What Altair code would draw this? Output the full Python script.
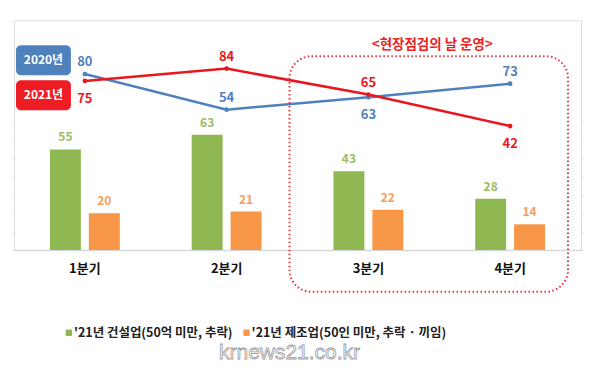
import altair as alt
import pandas as pd

quarters = ["1분기", "2분기", "3분기", "4분기"]
bar_series = ["'21년 건설업(50억 미만, 추락)", "'21년 제조업(50인 미만, 추락 · 끼임)"]
construction_21 = [55, 63, 43, 28]
manufacturing_21 = [20, 21, 22, 14]
line_series = ["2020년", "2021년"]
fatal_2020 = [80, 54, 63, 73]
fatal_2021 = [75, 84, 65, 42]

FONT = "Noto Sans CJK KR"
GREEN, ORANGE = "#8fb752", "#f79646"
GREEN_T, ORANGE_T = "#9dbb62", "#f5a05a"
BLUE, RED = "#4f81bd", "#e8161e"

bars = pd.DataFrame({
    "quarter": quarters * 2,
    "series": [bar_series[0]] * 4 + [bar_series[1]] * 4,
    "value": construction_21 + manufacturing_21,
})
lines = pd.DataFrame({
    "quarter": quarters * 2,
    "series": [line_series[0]] * 4 + [line_series[1]] * 4,
    "value": fatal_2020 + fatal_2021,
})
# label placement (annotation layout)
below = {("2020년", "3분기"), ("2021년", "1분기"), ("2021년", "4분기")}
lines["below"] = [(s, q) in below for s, q in zip(lines["series"], lines["quarter"])]

W, H = 568, 230
xenc = alt.X("quarter:N", sort=quarters,
             scale=alt.Scale(paddingInner=0, paddingOuter=0),
             axis=alt.Axis(title=None, labelAngle=0, ticks=False, labelPadding=13,
                           labelFont=FONT, labelFontSize=13, labelFontWeight="bold",
                           labelColor="#111", domainColor="#d9d9d9", domainWidth=1.5))
ybar = alt.Y("value:Q", scale=alt.Scale(domain=[0, 125.7], nice=False, zero=False),
             axis=alt.Axis(title=None, labels=False, domain=False, grid=False,
                           ticks=True, tickSize=2, tickColor="#dddddd",
                           values=[0, 10, 20, 30, 40, 50, 60, 70]))
yline = alt.Y("value:Q", scale=alt.Scale(domain=[-48.5, 119.3], nice=False, zero=False),
              axis=None)
xoff = alt.XOffset("series:N", sort=bar_series,
                   scale=alt.Scale(paddingInner=0.205, paddingOuter=0.923))
bcolor = alt.Color("series:N", scale=alt.Scale(domain=bar_series, range=[GREEN, ORANGE]), legend=None)
btcolor = alt.Color("series:N", scale=alt.Scale(domain=bar_series, range=[GREEN_T, ORANGE_T]), legend=None)
lcolor = alt.Color("series:N", scale=alt.Scale(domain=line_series, range=[BLUE, RED]), legend=None)

base_b = alt.Chart(bars)
bar_layer = base_b.mark_bar().encode(x=xenc, xOffset=xoff, y=ybar, color=bcolor)
bar_text = base_b.mark_text(dy=-12, font=FONT, fontSize=12, fontWeight="bold").encode(
    x=xenc, xOffset=xoff, y=ybar, text="value:Q", color=btcolor)

base_l = alt.Chart(lines)
line_layer = base_l.mark_line(strokeWidth=2.5).encode(x=xenc, y=yline, color=lcolor, detail="series:N")
pt_layer = base_l.mark_circle(size=22, opacity=1).encode(x=xenc, y=yline, color=lcolor)
lt_above = base_l.transform_filter("!datum.below").mark_text(
    dy=-12, font=FONT, fontSize=13, fontWeight="bold").encode(
    x=xenc, y=yline, text="value:Q", color=lcolor)
lt_below = base_l.transform_filter("datum.below").mark_text(
    dy=18, font=FONT, fontSize=13, fontWeight="bold").encode(
    x=xenc, y=yline, text="value:Q", color=lcolor)

one = alt.Chart(pd.DataFrame({"a": [0]}))
box = one.mark_rect(fill=None, stroke="#e2323a", strokeWidth=2, strokeDash=[1.5, 2.5],
                    cornerRadius=22).encode(
    x=alt.value(276), x2=alt.value(555), y=alt.value(36), y2=alt.value(272))
box_title = one.mark_text(text="<현장점검의 날 운영>", font=FONT, fontSize=13.5, fontWeight="bold",
                          color="#e8231f").encode(x=alt.value(419), y=alt.value(25))
leg20 = one.mark_rect(fill=BLUE, cornerRadius=5).encode(
    x=alt.value(2), x2=alt.value(57), y=alt.value(25), y2=alt.value(55))
leg21 = one.mark_rect(fill="#ee1c25", cornerRadius=5).encode(
    x=alt.value(2), x2=alt.value(57), y=alt.value(60), y2=alt.value(90))
leg20t = one.mark_text(text=line_series[0], font=FONT, fontSize=12, fontWeight="bold",
                       color="white").encode(x=alt.value(29.5), y=alt.value(40))
leg21t = one.mark_text(text=line_series[1], font=FONT, fontSize=12, fontWeight="bold",
                       color="white").encode(x=alt.value(29.5), y=alt.value(75))

sq1 = one.mark_square(size=40, color=GREEN, opacity=1).encode(x=alt.value(55), y=alt.value(313))
sq2 = one.mark_square(size=40, color=ORANGE, opacity=1).encode(x=alt.value(233), y=alt.value(313))
bl1 = one.mark_text(text=bar_series[0], font=FONT, fontSize=12.5, fontWeight="bold", color="#222",
                    align="left").encode(x=alt.value(60), y=alt.value(313))
bl2 = one.mark_text(text=bar_series[1], font=FONT, fontSize=12.5, fontWeight="bold", color="#222",
                    align="left").encode(x=alt.value(238), y=alt.value(313))
wm = one.mark_text(text="krnews21.co.kr", font="Liberation Sans", fontSize=21, fill="white",
                   stroke="#9a9a9a", strokeWidth=0.8).encode(x=alt.value(276), y=alt.value(333))

chart = alt.layer(
    bar_layer, bar_text, line_layer, pt_layer, lt_above, lt_below,
    box, box_title, leg20, leg21, leg20t, leg21t, sq1, sq2, bl1, bl2, wm
).resolve_scale(y="independent", color="independent").properties(
    width=W, height=H,
    autosize=alt.AutoSizeParams(type="none"),
    padding={"left": 6, "top": 12, "right": 10, "bottom": 118},
).configure_view(stroke=None).configure(background="white")

chart.save("out.html", embed_options={"renderer": "svg", "actions": False})
